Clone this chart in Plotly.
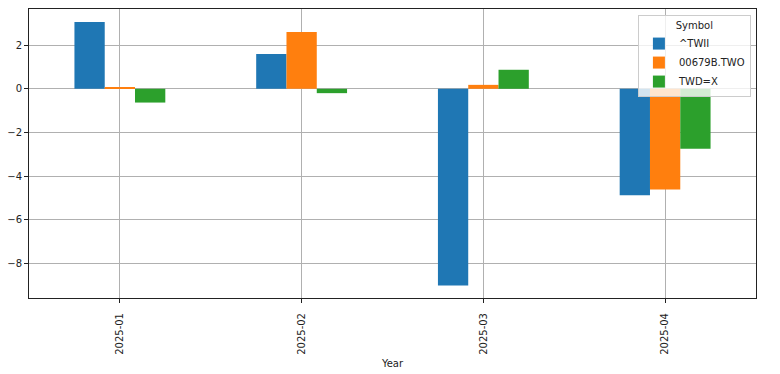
import plotly.graph_objects as go

months = ["2025-01", "2025-02", "2025-03", "2025-04"]
symbols = ["^TWII", "00679B.TWO", "TWD=X"]
twii = [3.05, 1.59, -9.0, -4.87]
bond = [0.05, 2.6, 0.18, -4.61]
twd = [-0.63, -0.2, 0.87, -2.74]
colors = ["#1f77b4", "#ff7f0e", "#2ca02c"]

series = [twii, bond, twd]

fig = go.Figure()
for name, vals, c in zip(symbols, series, colors):
    fig.add_trace(go.Bar(x=months, y=vals, name=name, marker=dict(color=c, line=dict(width=0))))

W, H = 780, 374
fig.update_layout(
    width=W, height=H,
    margin=dict(l=29, r=24, t=9, b=75.5, autoexpand=False),
    paper_bgcolor="white", plot_bgcolor="white",
    barmode="group", bargap=0.5, bargroupgap=0,
    font=dict(family="DejaVu Sans", size=10, color="#222"),
    showlegend=True,
    legend=dict(
        title=dict(text="Symbol", side="top center", font=dict(size=10)),
        x=0.993, xanchor="right", y=0.979, yanchor="top",
        bgcolor="rgba(255,255,255,0.8)", bordercolor="#cccccc", borderwidth=1,
        font=dict(size=10), itemwidth=30, tracegroupgap=0,
    ),
)
fig.update_xaxes(
    type="category", range=[-0.5, 3.5], tickangle=-90, automargin=False,
    showgrid=True, gridcolor="#b0b0b0", gridwidth=1,
    showline=True, linecolor="#222", linewidth=1, mirror=True,
    ticks="outside", ticklen=4, tickcolor="#222", ticklabelstandoff=6,
    title=dict(text="Year", font=dict(size=10), standoff=6),
)
fig.update_yaxes(
    range=[-9.57, 3.65], tickvals=[-8, -6, -4, -2, 0, 2], automargin=False,
    showgrid=True, gridcolor="#b0b0b0", gridwidth=1, zeroline=False,
    showline=True, linecolor="#222", linewidth=1, mirror=True,
    ticks="outside", ticklen=4, tickcolor="#222",
)
fig.write_html("out.html", config={"displayModeBar": False},
               post_script="document.body.style.margin='0';")
